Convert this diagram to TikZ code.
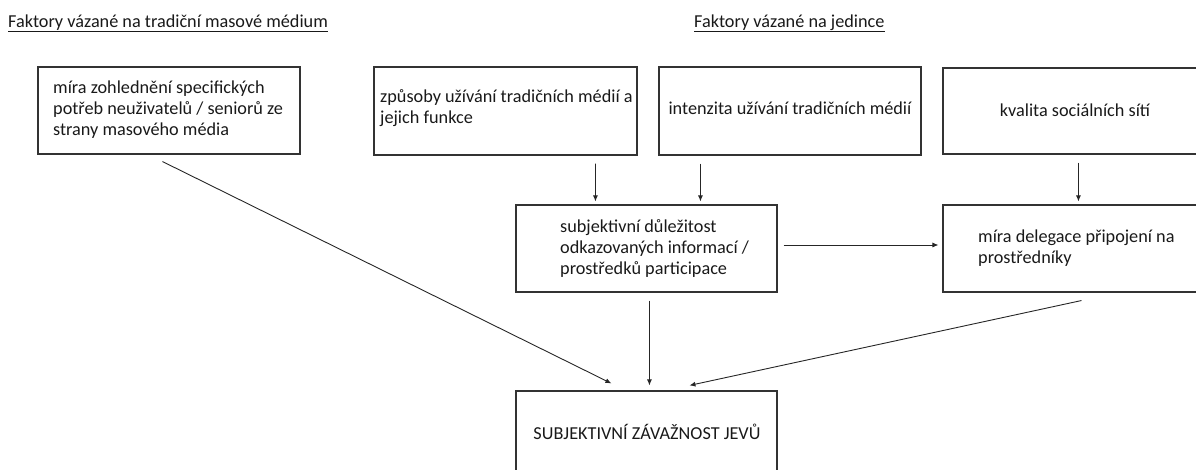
\documentclass[tikz,border=0pt]{standalone}
\usepackage{fontspec}
\setmainfont{Carlito}
\usetikzlibrary{arrows.meta,calc}
\begin{document}
\begin{tikzpicture}[x=1bp,y=-1bp,
  box/.style={draw=black!80, line width=1.1bp, inner sep=0pt},
  lbl/.style={font=\fontsize{18.3}{21.5}\selectfont, inner sep=0pt, align=left, text=black!90},
  arr/.style={draw=black!85, line width=0.9bp, -{Latex[length=6bp,width=5bp]}},
  uline/.style={draw=black!90, line width=0.9bp}
]
\useasboundingbox (0,0) rectangle (1196,470);
\clip (0,0) rectangle (1196,470);

% headings
\node[lbl, anchor=base west] (h1) at (8,28) {Faktory vázané na tradiční masové médium};
\draw[uline] ([yshift=-3.7bp]h1.base west) -- ([yshift=-3.7bp]h1.base east);
\node[lbl, anchor=base west] (h2) at (694,28) {Faktory vázané na jedince};
\draw[uline] ([yshift=-3.7bp]h2.base west) -- ([yshift=-3.7bp]h2.base east);

% boxes
\node[box, minimum width=262bp, minimum height=87bp] (A) at (169,110.5) {};
\node[box, minimum width=263bp, minimum height=88bp] (B) at (505.5,111) {};
\node[box, minimum width=262bp, minimum height=88bp] (C) at (790,111) {};
\node[box, minimum width=264bp, minimum height=86bp] (D) at (1075,111) {};
\node[box, minimum width=261bp, minimum height=87bp] (E) at (646.5,248.5) {};
\node[box, minimum width=264bp, minimum height=87bp] (F) at (1075,248.5) {};
\node[box, minimum width=261bp, minimum height=99bp] (G) at (646.5,440.5) {};

% texts (base anchor = baseline of the last line)
\node[lbl, anchor=base west] (tA) at (53,136) {míra zohlednění specifických\\potřeb neuživatelů / seniorů ze\\strany masového média};
\node[lbl, anchor=base west] (tB) at (380,124) {způsoby užívání tradičních médií a\\jejich funkce};
\node[lbl, anchor=base] (tC) at (790,115) {intenzita užívání tradičních médií};
\node[lbl, anchor=base] (tD) at (1075,117) {kvalita sociálních sítí};
\node[lbl, anchor=base west] (tE) at (560,275) {subjektivní důležitost\\odkazovaných informací /\\prostředků participace};
\node[lbl, anchor=base west] (tF) at (978,264) {míra delegace připojení na\\prostředníky};
\node[lbl, anchor=base] (tG) at (647,440) {SUBJEKTIVNÍ ZÁVAŽNOST JEVŮ};

% connectors
\draw[arr] ($(B.south west)+(222,8)$) -- ($(E.north west)+(80,-3)$);
\draw[arr] ($(C.south west)+(42,8)$) -- ($(E.north west)+(185,-3)$);
\draw[arr] ($(D.south west)+(136,8)$) -- ($(F.north west)+(136,-3)$);
\draw[arr] ($(E.east)+(6,-3.5)$) -- ($(F.west)+(-4,-3.5)$);
\draw[arr] ($(A.south west)+(125,7)$) -- ($(G.north west)+(96,-7)$);
\draw[arr] ($(E.south west)+(134,8)$) -- ($(G.north west)+(134,-5)$);
\draw[arr] ($(F.south west)+(139,8)$) -- ($(G.north west)+(174,-5)$);
\end{tikzpicture}
\end{document}
